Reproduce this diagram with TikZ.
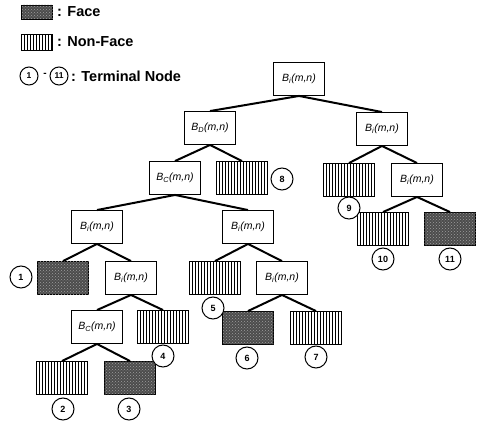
\documentclass[tikz,border=0pt]{standalone}
\usepackage{fontspec}
\setmainfont{Liberation Sans}
\usetikzlibrary{patterns}
\begin{document}
\begin{tikzpicture}[x=1pt,y=-1pt,
  tbox/.style={draw,line width=0.9pt,minimum width=51pt,minimum height=33pt,inner sep=0pt,
    font=\fontsize{10.5}{11}\selectfont\itshape},
  facebox/.style={tbox,fill=black!70,postaction={pattern=crosshatch dots,pattern color=black!38}},
  nfbox/.style={tbox,fill=white,path picture={
    \foreach \k in {1,...,17}{\draw[line width=0.8pt]
      ([xshift=\k*3pt]path picture bounding box.south west) --
      ([xshift=\k*3pt]path picture bounding box.north west);}}},
  term/.style={circle,draw,line width=1pt,fill=white,minimum size=22pt,inner sep=0pt,
    font=\fontsize{9}{10}\selectfont\bfseries},
  lterm/.style={term,minimum size=18pt,font=\fontsize{8.5}{9}\selectfont\bfseries},
  edge/.style={line width=2pt},
  lbl/.style={anchor=west,inner sep=0pt,font=\fontsize{14.5}{15}\selectfont\bfseries}]
\useasboundingbox (0,0) rectangle (479,422);
% legend
\node[facebox,minimum width=31pt,minimum height=14pt] (lf) at (37,12) {};
\node[lbl] (lft) at (57,12) {: Face};
\node[nfbox,minimum width=31pt,minimum height=16pt] (ln) at (37,42) {};
\node[lbl] (lnt) at (57,42) {: Non-Face};
\node[lterm] (lc1) at (29,76) {1};
\node[inner sep=0pt,font=\fontsize{10}{10}\selectfont\bfseries] (ltil) at (45,75) {-};
\node[lterm] (lc11) at (59,76) {11};
\node[lbl] (ltt) at (71,76) {: Terminal Node};
% tree nodes
\node[tbox] (root) at (299,79) {B\textsubscript{i}(m,n)};
\node[tbox] (r2) at (382,129) {B\textsubscript{i}(m,n)};
\node[tbox] (bd) at (210,128) {B\textsubscript{D}(m,n)};
\node[tbox] (bc) at (175,178) {B\textsubscript{C}(m,n)};
\node[nfbox] (n8) at (242,178) {};
\node[nfbox] (n9) at (349,180) {};
\node[tbox] (bj) at (417,180) {B\textsubscript{i}(m,n)};
\node[nfbox] (n10) at (383,229) {};
\node[facebox] (f11) at (450,229) {};
\node[tbox] (l4a) at (97,227) {B\textsubscript{i}(m,n)};
\node[tbox] (l4b) at (248,227) {B\textsubscript{i}(m,n)};
\node[facebox] (f1) at (63,278) {};
\node[tbox] (l5a) at (131,278) {B\textsubscript{i}(m,n)};
\node[nfbox] (n5) at (215,278) {};
\node[tbox] (l5b) at (282,278) {B\textsubscript{i}(m,n)};
\node[tbox] (bc2) at (97,327) {B\textsubscript{C}(m,n)};
\node[nfbox] (n4) at (163,327) {};
\node[facebox] (f6) at (248,328) {};
\node[nfbox] (n7) at (316,328) {};
\node[nfbox] (n2) at (62,378) {};
\node[facebox] (f3) at (130,378) {};
% edges
\foreach \p/\c in {root/bd,root/r2,r2/n9,r2/bj,bj/n10,bj/f11,bd/bc,bd/n8,bc/l4a,bc/l4b,
  l4a/f1,l4a/l5a,l5a/bc2,l5a/n4,bc2/n2,bc2/f3,l4b/n5,l4b/l5b,l5b/f6,l5b/n7}
  \draw[edge] (\p.south) -- (\c.north);
% terminal circles
\node[term] (t1) at (21,277) {1};
\node[term] (t2) at (63,409) {2};
\node[term] (t3) at (129,409) {3};
\node[term] (t4) at (163,356) {4};
\node[term] (t5) at (213,308) {5};
\node[term] (t6) at (247,358) {6};
\node[term] (t7) at (316,357) {7};
\node[term] (t8) at (282,179) {8};
\node[term] (t9) at (349,208) {9};
\node[term] (t10) at (383,259) {10};
\node[term] (t11) at (450,259) {11};
\end{tikzpicture}
\end{document}
